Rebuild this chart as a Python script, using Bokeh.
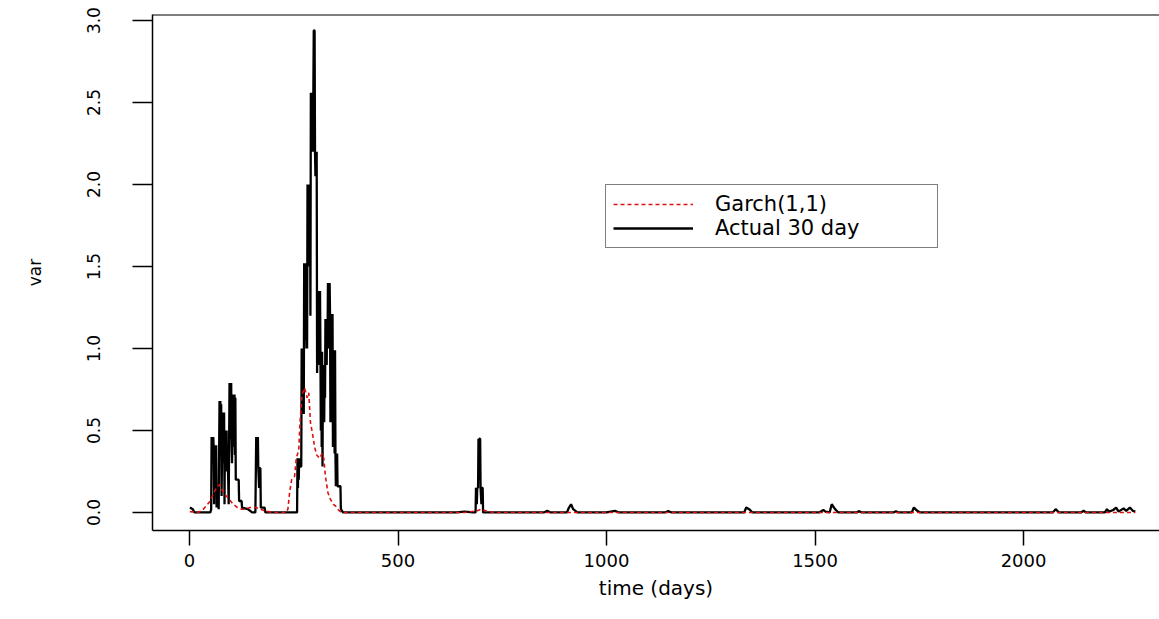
from bokeh.plotting import figure
from bokeh.models import Range1d, FixedTicker, Legend, LegendItem, Span
from bokeh.embed import file_html
from bokeh.resources import INLINE

# ---- data (day, variance) ----
actual_days = [1, 8, 12, 50, 52,
               53, 54, 55, 56, 57, 58, 59,
               60, 61, 62, 63, 64, 65, 68, 70,
               72, 73, 74, 75, 76, 77,
               79, 80, 81, 82, 83, 84,
               85, 86, 87, 88, 89, 90, 92, 94,
               96, 97, 98, 99, 100, 101, 102,
               104, 105, 106, 107, 108, 109, 110, 111,
               118, 119, 125, 126, 140, 150, 158,
               160, 161, 162, 163, 164, 165, 167, 168, 170, 171, 180, 182,
               258, 259, 260, 261, 262, 263, 264, 268,
               269, 270, 271, 272, 273, 274,
               275, 276, 277, 278, 279, 280, 281, 282,
               283, 284, 285, 286, 287, 288, 289, 290,
               291, 292, 293, 294, 295, 296,
               298, 300, 301, 302, 303, 304, 305, 306,
               307, 308, 309, 310, 311, 312, 313, 314,
               315, 316, 317, 318, 319,
               320, 321, 322, 323, 324, 325,
               326, 327, 328, 329, 330, 331,
               332, 333, 334, 335, 336, 337,
               338, 339, 340, 341, 342, 343,
               344, 345, 346, 347, 348, 349,
               350, 351, 352, 353, 354, 355, 362, 363, 368,
               640, 660, 680, 686,
               687, 689, 690, 692, 693, 694, 695, 697, 698, 700, 701, 703, 704,
               850, 858, 866, 905, 910, 915, 920, 930,
               1000, 1020, 1030, 1140, 1148, 1156, 1330, 1335, 1342, 1350, 1510, 1520, 1525, 1535, 1540, 1548,
               1556, 1600, 1605, 1612, 1688, 1694, 1700, 1732, 1737, 1745, 1752, 2070, 2077, 2085, 2138, 2144,
               2150, 2195, 2200, 2205, 2215, 2222, 2228, 2240, 2246, 2255, 2262, 2268]
actual_var = [0.03, 0.02, 0.0, 0.0, 0.02,
              0.46, 0.30, 0.46, 0.32, 0.46, 0.40, 0.05,
              0.41, 0.20, 0.41, 0.25, 0.41, 0.03, 0.15, 0.02,
              0.68, 0.35, 0.68, 0.40, 0.66, 0.10,
              0.61, 0.30, 0.61, 0.35, 0.61, 0.05,
              0.50, 0.25, 0.50, 0.28, 0.50, 0.25, 0.30, 0.05,
              0.79, 0.45, 0.79, 0.50, 0.79, 0.40, 0.30,
              0.72, 0.40, 0.72, 0.45, 0.72, 0.35, 0.70, 0.20,
              0.20, 0.07, 0.07, 0.03, 0.02, 0.0, 0.0,
              0.46, 0.28, 0.46, 0.30, 0.46, 0.27, 0.15, 0.27, 0.27, 0.03, 0.03, 0.0,
              0.0, 0.33, 0.15, 0.33, 0.20, 0.33, 0.28, 0.28,
              1.00, 0.60, 1.00, 0.65, 1.00, 0.60,
              1.52, 1.00, 1.52, 1.05, 1.52, 1.10, 1.52, 1.00,
              2.00, 1.50, 2.00, 1.55, 2.00, 1.50, 2.00, 1.20,
              2.56, 2.20, 2.56, 2.25, 2.56, 2.20,
              2.94, 2.94, 2.20, 2.05, 2.20, 2.05, 2.20, 0.85,
              1.35, 0.90, 1.35, 0.95, 1.35, 0.90, 1.35, 0.98,
              0.50, 0.98, 0.40, 0.98, 0.28,
              0.90, 0.60, 0.90, 0.55, 0.90, 0.70,
              1.18, 0.90, 1.18, 0.90, 1.18, 1.00,
              1.40, 1.00, 1.40, 1.05, 1.40, 1.21,
              0.55, 1.21, 0.60, 1.21, 0.55, 1.21,
              0.40, 0.99, 0.40, 0.99, 0.36, 0.99,
              0.36, 0.16, 0.36, 0.16, 0.36, 0.16, 0.16, 0.02, 0.0,
              0.0, 0.005, 0.0, 0.0,
              0.15, 0.05, 0.15, 0.15, 0.45, 0.20, 0.45, 0.45, 0.15, 0.05, 0.15, 0.15, 0.0,
              0.0, 0.01, 0.0, 0.0, 0.03, 0.05, 0.02, 0.0,
              0.0, 0.01, 0.0, 0.0, 0.008, 0.0, 0.0, 0.03, 0.02, 0.0, 0.0, 0.015, 0.005, 0.0, 0.05, 0.02,
              0.0, 0.0, 0.008, 0.0, 0.0, 0.008, 0.0, 0.0, 0.03, 0.01, 0.0, 0.0, 0.02, 0.0, 0.0, 0.01,
              0.0, 0.0, 0.02, 0.005, 0.015, 0.03, 0.005, 0.025, 0.01, 0.03, 0.01, 0.005]

garch_days = [1, 20, 30, 40, 50, 58, 65, 72, 78, 85, 95, 105, 115, 125, 135, 145, 160, 170, 180, 200, 232,
              236, 240, 245, 252, 256, 262, 265, 270, 276, 282, 286, 290, 295, 300, 305, 312, 318, 322, 326,
              332, 338, 345, 350, 355, 362, 370, 660, 690, 700, 710, 730, 2268]
garch_var = [0.005, 0.0, 0.01, 0.04, 0.07, 0.12, 0.15, 0.17, 0.14, 0.11, 0.08, 0.05, 0.03, 0.02, 0.02, 0.03,
             0.03, 0.02, 0.01, 0.0, 0.0, 0.02, 0.12, 0.20, 0.22, 0.33, 0.38, 0.55, 0.72, 0.76, 0.70, 0.73,
             0.55, 0.48, 0.40, 0.35, 0.33, 0.36, 0.33, 0.22, 0.12, 0.08, 0.05, 0.04, 0.02, 0.005, 0.0, 0.0,
             0.01, 0.02, 0.01, 0.0, 0.0]

x_ticks = [0, 500, 1000, 1500, 2000]
x_tick_labels = ["0", "500", "1000", "1500", "2000"]
y_ticks = [0.0, 0.5, 1.0, 1.5, 2.0, 2.5, 3.0]
y_tick_labels = ["0.0", "0.5", "1.0", "1.5", "2.0", "2.5", "3.0"]

FONT = "DejaVu Sans"

p = figure(width=1159, height=619, output_backend="svg", toolbar_location=None,
           x_range=Range1d(-88.7, 2326), y_range=Range1d(-0.11, 3.037),
           min_border_left=152, min_border_right=0, min_border_top=14, min_border_bottom=89)
p.background_fill_color = "white"
p.border_fill_color = "white"
p.outline_line_color = None
p.xgrid.visible = False
p.ygrid.visible = False

black = p.line(actual_days, actual_var, line_color="black", line_width=2.3)
red = p.line(garch_days, garch_var, line_color="#dd1111", line_width=1.6, line_dash="4 3")

p.add_layout(Span(location=3.037, dimension="width", line_color="black", line_width=2))

xa = p.xaxis[0]
xa.ticker = FixedTicker(ticks=x_ticks)
xa.major_label_overrides = {t: l for t, l in zip(x_ticks, x_tick_labels)}
xa.minor_tick_line_color = None
xa.major_tick_in = 0
xa.major_tick_out = 15
xa.major_label_standoff = 8
xa.major_label_text_font = FONT
xa.major_label_text_font_size = "18px"
xa.major_label_text_color = "black"
xa.axis_label = "time (days)"
xa.axis_label_text_font = FONT
xa.axis_label_text_font_size = "20px"
xa.axis_label_text_font_style = "normal"
xa.axis_label_text_color = "black"
xa.axis_label_standoff = 6
xa.axis_line_width = 1.5
xa.major_tick_line_width = 1.5

ya = p.yaxis[0]
ya.ticker = FixedTicker(ticks=y_ticks)
ya.major_label_overrides = {t: l for t, l in zip(y_ticks, y_tick_labels)}
ya.minor_tick_line_color = None
ya.major_tick_in = 0
ya.major_tick_out = 20
ya.major_label_orientation = "vertical"
ya.major_label_standoff = 32
ya.major_label_text_font = FONT
ya.major_label_text_font_size = "17px"
ya.major_label_text_color = "black"
ya.axis_label = "var"
ya.axis_label_text_font = FONT
ya.axis_label_text_font_size = "17px"
ya.axis_label_text_font_style = "normal"
ya.axis_label_text_color = "black"
ya.axis_label_standoff = 40
ya.axis_line_width = 1.5
ya.major_tick_line_width = 1.5

legend = Legend(items=[LegendItem(label="Garch(1,1)", renderers=[red]),
                       LegendItem(label="Actual 30 day", renderers=[black])],
                location=(453, 282))
legend.border_line_color = "black"
legend.border_line_width = 1.5
legend.background_fill_color = "white"
legend.background_fill_alpha = 1
legend.label_text_font = FONT
legend.label_text_font_size = "21px"
legend.label_text_color = "black"
legend.glyph_width = 80
legend.glyph_height = 24
legend.label_height = 24
legend.label_width = 215
legend.label_standoff = 22
legend.padding = 7
legend.spacing = 0
legend.margin = 0
p.add_layout(legend)

open("out.html", "w").write(file_html(p, INLINE))
